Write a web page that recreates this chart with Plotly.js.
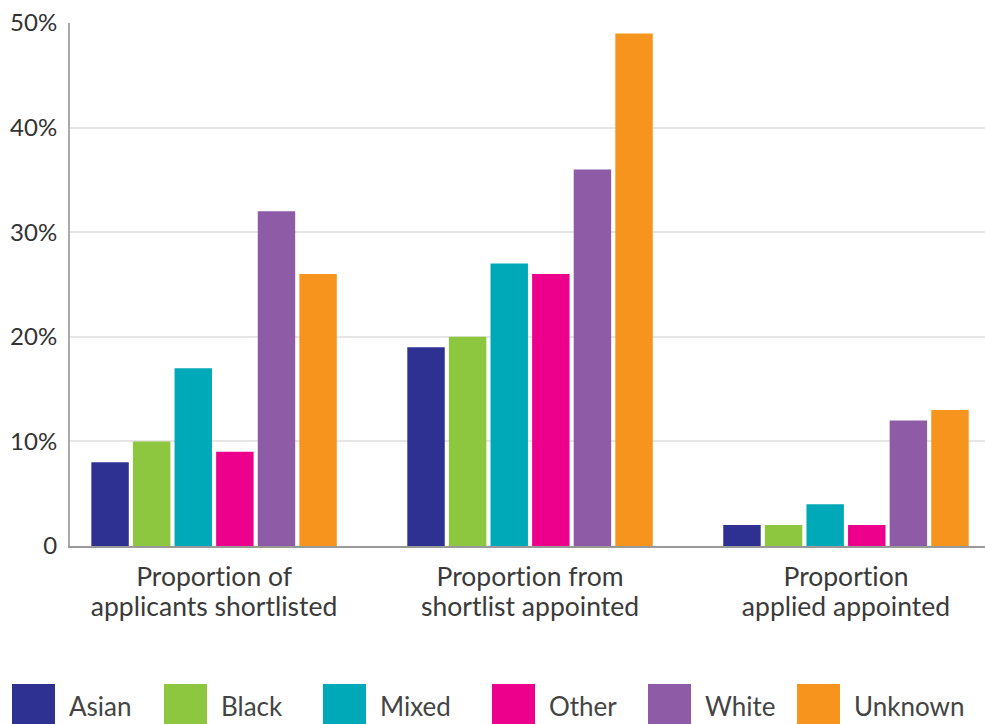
<!DOCTYPE html>
<html>
<head>
<meta charset="utf-8">
<script src="https://cdn.plot.ly/plotly-3.0.1.min.js"></script>
<style>html,body{margin:0;padding:0;background:#fff;}#chart{width:985px;height:724px;}#chart text{font-variant-ligatures:none;}</style>
</head>
<body>
<div id="chart"></div>
<script>
const categories = ["Proportion of", "applicants shortlisted", "Proportion from", "shortlist appointed", "Proportion", "applied appointed"];
const seriesNames = ["Asian", "Black", "Mixed", "Other", "White", "Unknown"];
const asian = [8, 19, 2];
const black = [10, 20, 2];
const mixed = [17, 27, 4];
const other = [9, 26, 2];
const white = [32, 36, 12];
const unknown = [26, 49, 13];
const seriesValues = [asian, black, mixed, other, white, unknown];
const colors = ["#2e3192", "#8dc63f", "#00a9b7", "#ec008c", "#8e5ba6", "#f7941d"];
const tickVals = [0, 10, 20, 30, 40, 50];
const tickText = ["0", "10%", "20%", "30%", "40%", "50%"];

// layout constants (pixels)
const W = 985, H = 724;
const M = {l: 70, r: 0, t: 23, b: 178};
const plotW = W - M.l - M.r, plotH = H - M.t - M.b;
const legendLeft = [12, 164, 323, 492, 648, 797];
const swatchW = 43, swatchTop = 684, textGap = 12, legendMid = 706;
const pxToX = px => (px - M.l) / plotW;
const pxToY = py => (H - M.b - py) / plotH;

const font = "Lato, 'Noto Sans', sans-serif";
const span = s => '<span style="font-size:26.5px;font-variant-ligatures:none">' + s + '</span>';
const tickLabels = [0, 1, 2].map(i => span(categories[2 * i]) + '<br>' + span(categories[2 * i + 1]));

const traces = seriesNames.map((n, i) => ({
  type: "bar",
  name: n,
  x: [0, 1, 2],
  y: seriesValues[i],
  marker: {color: colors[i]},
  hoverinfo: "skip",
  showlegend: false
}));

const shapes = seriesNames.map((n, i) => ({
  type: "rect", xref: "paper", yref: "paper",
  x0: pxToX(legendLeft[i]), x1: pxToX(legendLeft[i] + swatchW),
  y0: pxToY(swatchTop), y1: pxToY(H + 20),
  fillcolor: colors[i], line: {width: 0}
}));
const annotations = seriesNames.map((n, i) => ({
  text: n, xref: "paper", yref: "paper",
  x: pxToX(legendLeft[i] + swatchW + textGap), xanchor: "left",
  y: pxToY(legendMid), yanchor: "middle",
  showarrow: false,
  font: {family: font, size: 26, color: "#444"}
}));

const layout = {
  width: W, height: H,
  margin: M,
  paper_bgcolor: "#fff", plot_bgcolor: "#fff",
  barmode: "group",
  bargap: 0.21,
  bargroupgap: 0.1,
  font: {family: font, color: "#333", size: 22},
  xaxis: {
    range: [-0.456, 2.44],
    tickvals: [0, 1, 2],
    ticktext: tickLabels,
    tickfont: {size: 23, color: "#3a3a3a"},
    ticklabelstandoff: 10,
    showline: true, linecolor: "#999", linewidth: 2,
    ticks: "", showgrid: false, zeroline: false,
    fixedrange: true
  },
  yaxis: {
    range: [0, 50],
    tickvals: tickVals,
    ticktext: tickText,
    tickfont: {size: 24, color: "#333"},
    showline: true, linecolor: "#aaa", linewidth: 2,
    gridcolor: "#e6e6e6", gridwidth: 2,
    zeroline: false, ticks: "",
    ticklabelstandoff: 6,
    fixedrange: true
  },
  showlegend: false,
  shapes: shapes,
  annotations: annotations
};

Plotly.newPlot("chart", traces, layout, {displayModeBar: false, staticPlot: true});
</script>
</body>
</html>
